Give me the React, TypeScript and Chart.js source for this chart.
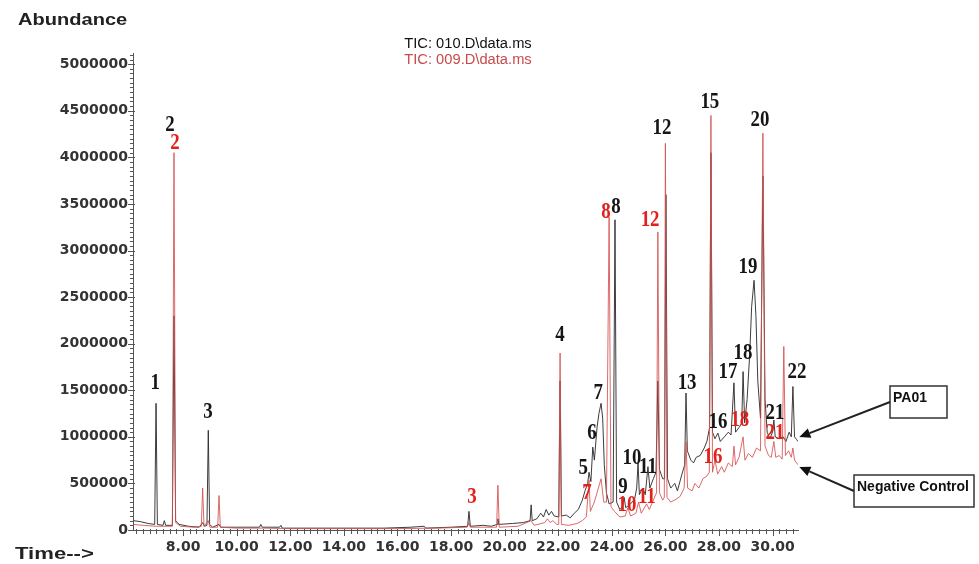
import React, { useEffect, useRef } from "react";
import { Chart, registerables } from "chart.js";

Chart.register(...registerables);

// PA01 trace (TIC: 010.D\data.ms) — retention time (min) and abundance
const pa01Times = [
  6.15, 6.4, 6.7, 6.94, 6.99, 7.04, 7.25, 7.3, 7.35, 7.6, 7.66, 7.72, 7.85, 8.2, 8.6, 8.73, 8.8, 8.89, 8.94, 8.99,
  9.1, 9.34, 9.4, 10.0, 10.85, 10.9, 10.95, 11.6, 11.65, 11.7, 13.0, 14.5, 15.5, 16.5, 17.0, 17.05, 18.0, 18.62,
  18.67, 18.72, 19.2, 19.5, 19.72, 19.75, 19.78, 20.3, 20.7, 20.95, 20.99, 21.03, 21.2, 21.35, 21.45, 21.55, 21.65,
  21.75, 21.85, 22.02, 22.07, 22.12, 22.3, 22.45, 22.6, 22.75, 22.9, 23.0, 23.1, 23.15, 23.22, 23.29, 23.35, 23.45,
  23.52, 23.6, 23.66, 23.72, 23.8, 23.9, 24.05, 24.12, 24.18, 24.3, 24.4, 24.46, 24.52, 24.7, 24.85, 24.93, 24.98,
  25.03, 25.15, 25.25, 25.35, 25.42, 25.55, 25.65, 25.72, 25.78, 25.9, 25.97, 26.02, 26.08, 26.2, 26.35, 26.45,
  26.6, 26.72, 26.77, 26.82, 26.95, 27.05, 27.15, 27.3, 27.45, 27.55, 27.65, 27.7, 27.76, 27.85, 27.96, 28.05,
  28.2, 28.35, 28.45, 28.56, 28.62, 28.75, 28.85, 28.9, 28.96, 29.05, 29.15, 29.22, 29.31, 29.38, 29.45, 29.55,
  29.64, 29.72, 29.8, 29.9, 30.0, 30.05, 30.1, 30.25, 30.4, 30.5, 30.62, 30.7, 30.76, 30.82, 30.9, 30.95,
];
const pa01Values = [
  100000, 90000, 70000, 60000, 1360000, 60000, 50000, 100000, 50000, 50000, 2300000, 100000, 60000, 40000, 30000,
  80000, 40000, 50000, 1070000, 60000, 30000, 60000, 30000, 30000, 30000, 60000, 30000, 30000, 50000, 20000, 20000,
  20000, 20000, 30000, 40000, 20000, 30000, 40000, 200000, 40000, 50000, 40000, 60000, 120000, 60000, 70000, 80000,
  100000, 270000, 100000, 120000, 180000, 140000, 220000, 160000, 200000, 150000, 140000, 1600000, 150000, 160000,
  130000, 180000, 220000, 320000, 420000, 500000, 620000, 520000, 890000, 750000, 1100000, 1250000, 1360000,
  1200000, 700000, 400000, 280000, 300000, 3330000, 300000, 220000, 250000, 350000, 240000, 280000, 330000, 450000,
  720000, 380000, 450000, 380000, 680000, 450000, 550000, 620000, 1600000, 650000, 550000, 550000, 3600000, 550000,
  450000, 500000, 420000, 580000, 700000, 1470000, 850000, 750000, 720000, 780000, 800000, 880000, 950000, 1100000,
  4050000, 1050000, 980000, 1040000, 950000, 1000000, 1050000, 1020000, 1580000, 1050000, 1100000, 1150000,
  1700000, 1150000, 1400000, 1900000, 2400000, 2680000, 2300000, 1600000, 1200000, 3800000, 1400000, 1050000,
  980000, 1050000, 1180000, 1000000, 980000, 1000000, 950000, 1050000, 1000000, 1540000, 1000000, 970000, 950000,
];

// Negative control trace (TIC: 009.D\data.ms)
const controlTimes = [
  6.15, 6.5, 7.0, 7.6, 7.66, 7.72, 7.9, 8.4, 8.68, 8.73, 8.78, 8.94, 9.0, 9.29, 9.34, 9.39, 10.0, 11.0, 12.0, 14.0,
  16.0, 17.5, 18.6, 18.67, 18.72, 19.7, 19.75, 19.8, 20.5, 20.99, 21.1, 21.5, 21.6, 21.7, 21.8, 21.95, 22.02, 22.07,
  22.12, 22.4, 22.7, 22.9, 23.05, 23.15, 23.2, 23.35, 23.5, 23.6, 23.7, 23.8, 23.9, 23.97, 24.1, 24.3, 24.5, 24.6,
  24.7, 24.9, 25.0, 25.1, 25.3, 25.4, 25.55, 25.67, 25.72, 25.78, 25.9, 25.96, 26.0, 26.06, 26.2, 26.4, 26.55, 26.7,
  26.77, 26.83, 27.0, 27.1, 27.25, 27.4, 27.55, 27.64, 27.7, 27.76, 27.85, 27.95, 28.1, 28.2, 28.35, 28.5, 28.56,
  28.62, 28.75, 28.9, 28.97, 29.1, 29.25, 29.4, 29.55, 29.64, 29.72, 29.85, 29.95, 30.05, 30.12, 30.25, 30.36,
  30.42, 30.48, 30.6, 30.7, 30.76, 30.82, 30.95,
];
const controlValues = [
  60000, 50000, 40000, 40000, 4050000, 80000, 40000, 30000, 40000, 450000, 40000, 100000, 30000, 30000, 370000,
  30000, 20000, 20000, 15000, 15000, 15000, 20000, 30000, 80000, 30000, 30000, 480000, 30000, 40000, 100000, 50000,
  80000, 120000, 80000, 100000, 60000, 60000, 1900000, 60000, 50000, 70000, 100000, 140000, 540000, 200000, 300000,
  450000, 550000, 300000, 300000, 3360000, 250000, 200000, 140000, 150000, 240000, 150000, 180000, 300000, 180000,
  280000, 220000, 320000, 400000, 3200000, 400000, 320000, 350000, 4150000, 350000, 300000, 330000, 360000, 450000,
  950000, 450000, 420000, 500000, 450000, 550000, 580000, 620000, 4450000, 620000, 750000, 600000, 680000, 620000,
  720000, 680000, 900000, 700000, 780000, 1000000, 750000, 820000, 780000, 880000, 850000, 4260000, 900000, 800000,
  780000, 950000, 780000, 800000, 760000, 1970000, 800000, 850000, 780000, 880000, 750000, 700000,
];

// Peak number labels: text, retention time, abundance position
const pa01LabelText = ["1", "2", "3", "4", "5", "6", "7", "8", "9", "10", "11", "12", "13", "15", "16", "17", "18", "19", "20", "21", "22"];
const pa01LabelTime = [6.96, 7.51, 8.93, 22.07, 22.93, 23.26, 23.49, 24.16, 24.42, 24.75, 25.35, 25.87, 26.81, 27.66, 27.96, 28.34, 28.9, 29.08, 29.53, 30.09, 30.91];
const pa01LabelAbund = [1577000, 4345000, 1266000, 2092000, 665000, 1041000, 1470000, 3466000, 461000, 773000, 676000, 4313000, 1577000, 4592000, 1159000, 1695000, 1899000, 2822000, 4399000, 1255000, 1695000];

const controlLabelText = ["2", "3", "7", "8", "10", "11", "12", "16", "18", "21"];
const controlLabelTime = [7.7, 18.78, 23.07, 23.78, 24.57, 25.31, 25.43, 27.78, 28.78, 30.09];
const controlLabelAbund = [4152000, 354000, 397000, 3412000, 268000, 354000, 3326000, 783000, 1180000, 1041000];

// Axis ticks
const yTickValues = [0, 500000, 1000000, 1500000, 2000000, 2500000, 3000000, 3500000, 4000000, 4500000, 5000000];
const yTickLabels = ["0", "500000", "1000000", "1500000", "2000000", "2500000", "3000000", "3500000", "4000000", "4500000", "5000000"];
const yMinorStep = 50000;
const xTickValues = [8, 10, 12, 14, 16, 18, 20, 22, 24, 26, 28, 30];
const xTickLabels = ["8.00", "10.00", "12.00", "14.00", "16.00", "18.00", "20.00", "22.00", "24.00", "26.00", "28.00", "30.00"];
const xMinorStep = 0.25;

const headerLines = ["TIC: 010.D\\data.ms", "TIC: 009.D\\data.ms"];
const yTitle = "Abundance";
const xTitle = "Time-->";
const sampleNames = ["PA01", "Negative Control"];
const arrowTipTime = [31.0, 31.0];
const arrowTipAbund = [998000, 676000];

function drawText(ctx: CanvasRenderingContext2D, text: string, x: number, y: number, font: string, color: string, align: CanvasTextAlign, sx = 1, sy = 1) {
  ctx.save();
  ctx.translate(x, y);
  ctx.scale(sx, sy);
  ctx.font = font;
  ctx.fillStyle = color;
  ctx.textAlign = align;
  ctx.textBaseline = "middle";
  ctx.fillText(text, 0, 0);
  ctx.restore();
}

function drawArrow(ctx: CanvasRenderingContext2D, x1: number, y1: number, x2: number, y2: number) {
  const ang = Math.atan2(y2 - y1, x2 - x1);
  const head = 11;
  const hw = 5;
  const bx = x2 - head * Math.cos(ang);
  const by = y2 - head * Math.sin(ang);
  ctx.save();
  ctx.strokeStyle = "#222";
  ctx.fillStyle = "#111";
  ctx.lineWidth = 2;
  ctx.beginPath();
  ctx.moveTo(x1, y1);
  ctx.lineTo(bx, by);
  ctx.stroke();
  ctx.beginPath();
  ctx.moveTo(x2, y2);
  ctx.lineTo(bx + hw * Math.sin(ang), by - hw * Math.cos(ang));
  ctx.lineTo(bx - hw * Math.sin(ang), by + hw * Math.cos(ang));
  ctx.closePath();
  ctx.fill();
  ctx.restore();
}

const annotationPlugin = {
  id: "gcmsAnnotations",
  beforeDatasetsDraw(chart: any) {
    const ctx = chart.ctx as CanvasRenderingContext2D;
    const xs = chart.scales.x;
    const ys = chart.scales.y;
    const area = chart.chartArea;
    const tickFont = "bold 14px 'DejaVu Sans', sans-serif";
    ctx.save();
    ctx.strokeStyle = "#555";
    ctx.lineWidth = 1;
    ctx.beginPath();
    for (let v = 0; v <= ys.max + 1; v += yMinorStep) {
      const py = Math.round(ys.getPixelForValue(v)) + 0.5;
      const major = yTickValues.indexOf(v) >= 0;
      ctx.moveTo(area.left - (major ? 5 : 3), py);
      ctx.lineTo(area.left + (major ? 2 : 1), py);
    }
    const first = Math.ceil(xs.min / xMinorStep) * xMinorStep;
    for (let t = first; t <= xs.max + 1e-9; t += xMinorStep) {
      const px = Math.round(xs.getPixelForValue(t)) + 0.5;
      const major = xTickValues.some((m) => Math.abs(m - t) < 1e-6);
      ctx.moveTo(px, area.bottom - 1);
      ctx.lineTo(px, area.bottom + (major ? 6 : 4));
    }
    ctx.stroke();
    ctx.restore();
    yTickValues.forEach((v, i) => {
      drawText(ctx, yTickLabels[i], area.left - 5, ys.getPixelForValue(v), tickFont, "#333", "right");
    });
    xTickValues.forEach((v, i) => {
      drawText(ctx, xTickLabels[i], xs.getPixelForValue(v), area.bottom + 17, tickFont, "#333", "center");
    });
  },
  afterDatasetsDraw(chart: any) {
    const ctx = chart.ctx as CanvasRenderingContext2D;
    const xs = chart.scales.x;
    const ys = chart.scales.y;
    const serif = "bold 21px 'Liberation Serif', 'Times New Roman', serif";
    pa01LabelText.forEach((t, i) => {
      drawText(ctx, t, xs.getPixelForValue(pa01LabelTime[i]), ys.getPixelForValue(pa01LabelAbund[i]), serif, "#151515", "center", 0.9, 1.1);
    });
    controlLabelText.forEach((t, i) => {
      drawText(ctx, t, xs.getPixelForValue(controlLabelTime[i]), ys.getPixelForValue(controlLabelAbund[i]), serif, "#e3211c", "center", 0.9, 1.1);
    });
  },
  afterDraw(chart: any) {
    const ctx = chart.ctx as CanvasRenderingContext2D;
    const xs = chart.scales.x;
    const ys = chart.scales.y;
    const sans = "'Liberation Sans', Arial, sans-serif";
    drawText(ctx, yTitle, 18, 20, `bold 17px ${sans}`, "#222", "left", 1.18, 1);
    drawText(ctx, xTitle, 15, 554, `bold 17px ${sans}`, "#222", "left", 1.3, 1);
    drawText(ctx, headerLines[0], 468, 44, `14px ${sans}`, "#111", "center", 1.05, 1);
    drawText(ctx, headerLines[1], 468, 60, `14px ${sans}`, "#c84a4a", "center", 1.05, 1);

    const boxes = [
      { x: 890, y: 386, w: 57, h: 32 },
      { x: 854, y: 475, w: 120, h: 32 },
    ];
    boxes.forEach((b, i) => {
      ctx.save();
      ctx.fillStyle = "#fff";
      ctx.fillRect(b.x, b.y, b.w, b.h);
      ctx.strokeStyle = "#333";
      ctx.lineWidth = 1.5;
      ctx.strokeRect(b.x, b.y, b.w, b.h);
      ctx.restore();
      drawText(ctx, sampleNames[i], b.x + 3, b.y + 12, `bold 14px ${sans}`, "#111", "left", 1, 1.05);
      drawArrow(ctx, b.x, b.y + b.h / 2, xs.getPixelForValue(arrowTipTime[i]), ys.getPixelForValue(arrowTipAbund[i]));
    });
  },
};

export default function App() {
  const ref = useRef<HTMLCanvasElement | null>(null);
  useEffect(() => {
    if (!ref.current) return;
    const chart = new Chart(ref.current, {
      type: "line",
      data: {
        datasets: [
          {
            label: headerLines[1],
            data: controlTimes.map((t, i) => ({ x: t, y: controlValues[i] })),
            borderColor: "rgba(214, 80, 80, 0.85)",
            borderWidth: 1,
            pointRadius: 0,
            tension: 0,
            fill: false,
          },
          {
            label: headerLines[0],
            data: pa01Times.map((t, i) => ({ x: t, y: pa01Values[i] })),
            borderColor: "rgba(40, 40, 40, 0.9)",
            borderWidth: 1,
            pointRadius: 0,
            tension: 0,
            fill: false,
          },
        ],
      },
      options: {
        animation: false,
        responsive: false,
        maintainAspectRatio: false,
        layout: { padding: { left: 0, right: 181, top: 53, bottom: 0 } },
        plugins: { legend: { display: false }, tooltip: { enabled: false }, title: { display: false } },
        scales: {
          x: {
            type: "linear",
            min: 6.13,
            max: 30.95,
            afterFit: (s: any) => {
              s.height = 34;
            },
            border: { color: "#555", width: 1 },
            grid: { display: false },
            ticks: { display: false },
          },
          y: {
            min: 0,
            max: 5120000,
            afterFit: (s: any) => {
              s.width = 133;
            },
            border: { color: "#555", width: 1 },
            grid: { display: false },
            ticks: { display: false },
          },
        },
      },
      plugins: [annotationPlugin],
    });
    return () => chart.destroy();
  }, []);

  return (
    <div style={{ position: "absolute", left: 0, top: 0, width: 979, height: 564, background: "#fff" }}>
      <canvas ref={ref} width={979} height={564} style={{ width: 979, height: 564 }} />
    </div>
  );
}
